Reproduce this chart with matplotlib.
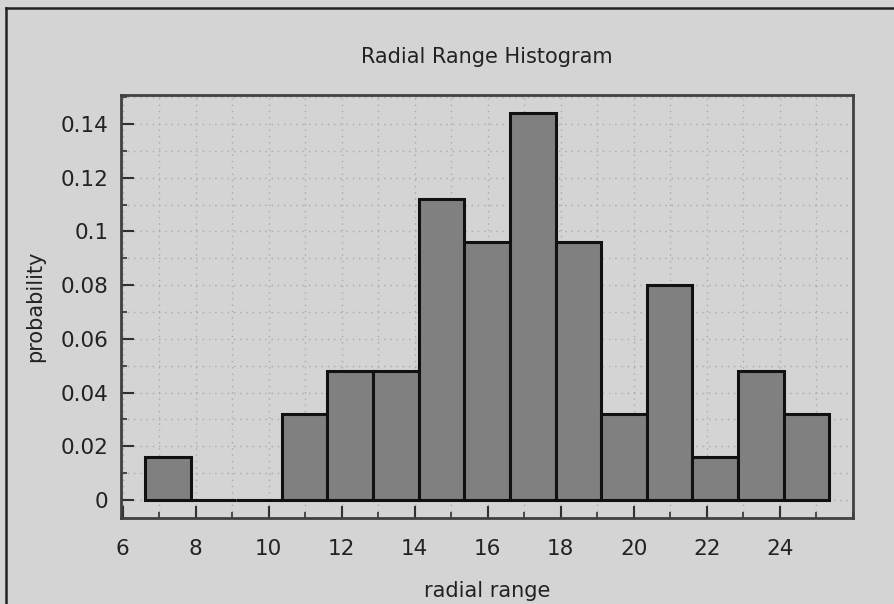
import numpy as np
import matplotlib
matplotlib.use("Agg")
import matplotlib.pyplot as plt
from matplotlib.lines import Line2D
from matplotlib.ticker import MultipleLocator

# histogram data
probability = [0.016, 0.0, 0.0, 0.032, 0.048, 0.048, 0.112, 0.096,
               0.144, 0.096, 0.032, 0.080, 0.016, 0.048, 0.032]
range_min = 6.61
range_max = 25.35
edges = np.linspace(range_min, range_max, len(probability) + 1)

bg = "#d4d4d4"
plt.rcParams["font.family"] = "DejaVu Sans"

fig = plt.figure(figsize=(8.94, 6.04), dpi=100, facecolor=bg)
ax = fig.add_axes([0.1353, 0.1424, 0.954 - 0.1353, 0.8435 - 0.1424])
ax.set_facecolor(bg)

ax.bar(edges[:-1], probability, width=np.diff(edges), align="edge",
       color="#808080", edgecolor="#111111", linewidth=2.2, zorder=3)

ax.set_xlim(5.95, 26.0)
ax.set_ylim(-0.0067, 0.151)

ax.xaxis.set_minor_locator(MultipleLocator(1))
ax.yaxis.set_minor_locator(MultipleLocator(0.01))
ax.set_yticks([0, 0.02, 0.04, 0.06, 0.08, 0.1, 0.12, 0.14])
ax.set_yticklabels(["0", "0.02", "0.04", "0.06", "0.08", "0.1", "0.12", "0.14"])
ax.set_xticks(range(6, 25, 2))
ax.set_xticklabels([str(v) for v in range(6, 25, 2)])

ax.tick_params(which="major", direction="in", length=9, width=1.5,
               color="#303030", labelsize=15.5, labelcolor="#222222")
ax.tick_params(which="minor", direction="in", length=4.5, width=1.2,
               color="#303030")
ax.tick_params(axis="x", which="major", pad=15)
ax.tick_params(axis="y", which="major", pad=9)
ax.tick_params(top=False, right=False, which="both")

ax.grid(which="both", linestyle=(0, (1, 3.5)), color="#aaaaaa", linewidth=1, zorder=0)
ax.set_axisbelow(True)

for s in ax.spines.values():
    s.set_color("#404040")
    s.set_linewidth(2)

ax.set_title("Radial Range Histogram", fontsize=15, color="#222222", pad=23)
ax.set_xlabel("radial range", fontsize=15, color="#222222", labelpad=16)
ax.set_ylabel("probability", fontsize=15, color="#222222", labelpad=11)

# outer frame lines (left and top)
fig.add_artist(Line2D([6 / 894, 6 / 894], [0, 1 - 8 / 604], color="#222222", linewidth=1.8))
fig.add_artist(Line2D([6 / 894, 1], [1 - 8 / 604, 1 - 8 / 604], color="#222222", linewidth=1.8))

fig.savefig("out.png", dpi=100, facecolor=bg)
